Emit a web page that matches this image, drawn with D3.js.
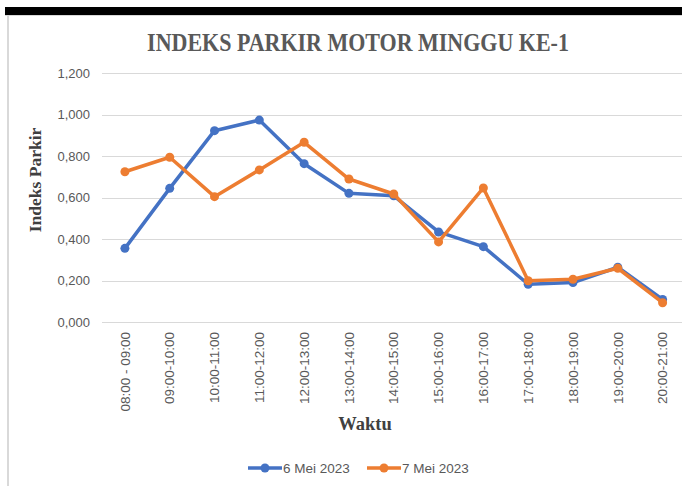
<!DOCTYPE html>
<html>
<head>
<meta charset="utf-8">
<script src="https://cdnjs.cloudflare.com/ajax/libs/d3/7.8.5/d3.min.js"></script>
<style>
  body { margin: 0; background: #fff; }
</style>
</head>
<body>
<div id="canvas"></div>
<script>
// data
const waktu = ["08:00 - 09:00", "09:00-10:00", "10:00-11:00", "11:00-12:00", "12:00-13:00",
  "13:00-14:00", "14:00-15:00", "15:00-16:00", "16:00-17:00", "17:00-18:00",
  "18:00-19:00", "19:00-20:00", "20:00-21:00"];
const mei6 = [0.355, 0.644, 0.922, 0.973, 0.763, 0.620, 0.608, 0.434, 0.363, 0.182, 0.190, 0.264, 0.109];
const mei7 = [0.724, 0.794, 0.604, 0.733, 0.866, 0.689, 0.617, 0.386, 0.646, 0.199, 0.206, 0.259, 0.093];
const yTicks = [0, 0.2, 0.4, 0.6, 0.8, 1.0, 1.2];

const series = [
  { name: "6 Mei 2023", values: mei6, color: "#4472C4" },
  { name: "7 Mei 2023", values: mei7, color: "#ED7D31" }
];

const width = 682, height = 486;
const svg = d3.select("#canvas").append("svg")
  .attr("width", width)
  .attr("height", height);

// frame bits (black bar on top, grey border left)
svg.append("rect").attr("x", 5).attr("y", 7).attr("width", 677).attr("height", 8).style("fill", "#000");
svg.append("line").attr("x1", 5).attr("x2", 682).attr("y1", 15.5).attr("y2", 15.5).style("stroke", "#d9d9d9");
svg.append("rect").attr("x", 7).attr("y", 15).attr("width", 2).attr("height", 471).style("fill", "#d9d9d9");

const x = d3.scaleBand()
  .domain(waktu)
  .range([102.5, 685]);

const y = d3.scaleLinear()
  .domain([0, 1.2])
  .range([322, 73]);

// gridlines
svg.append("g")
  .selectAll("line")
  .data(yTicks)
  .enter()
  .append("line")
  .attr("x1", 102)
  .attr("x2", 682)
  .attr("y1", d => Math.round(y(d)) + 0.5)
  .attr("y2", d => Math.round(y(d)) + 0.5)
  .style("stroke", "#d9d9d9")
  .style("stroke-width", 1);

// y axis labels
const fmt = d => d3.format(".3f")(d).replace(".", ",");
const yAxis = svg.append("g")
  .attr("transform", "translate(90,0)")
  .call(d3.axisLeft(y).tickValues(yTicks).tickFormat(fmt).tickSize(0).tickPadding(0));
yAxis.select(".domain").remove();
yAxis.selectAll("text")
  .style("font-family", "'Liberation Sans', Arial, sans-serif")
  .style("font-size", "13px")
  .style("fill", "#595959");

// x axis labels (rotated)
const xAxis = svg.append("g")
  .attr("transform", "translate(0,322)")
  .call(d3.axisBottom(x).tickSize(0).tickPadding(0));
xAxis.select(".domain").remove();
xAxis.selectAll("text")
  .attr("transform", "rotate(-90)")
  .attr("x", -10)
  .attr("y", 0)
  .attr("dy", "0.35em")
  .style("text-anchor", "end")
  .style("font-family", "'Liberation Sans', Arial, sans-serif")
  .style("font-size", "13.5px")
  .style("fill", "#595959");

// lines + markers
const line = d3.line()
  .x((d, i) => x(waktu[i]) + x.bandwidth() / 2)
  .y(d => y(d));

series.forEach(s => {
  svg.append("path")
    .datum(s.values)
    .attr("d", line)
    .style("fill", "none")
    .style("stroke", s.color)
    .style("stroke-width", 3.5)
    .style("stroke-linejoin", "round");
  svg.append("g")
    .selectAll("circle")
    .data(s.values)
    .enter()
    .append("circle")
    .attr("cx", (d, i) => x(waktu[i]) + x.bandwidth() / 2)
    .attr("cy", d => y(d))
    .attr("r", 4.5)
    .style("fill", s.color);
});

// titles
svg.append("text")
  .attr("transform", "translate(358,51) scale(0.88,1)")
  .attr("text-anchor", "middle")
  .style("font-family", "'Liberation Serif', 'Times New Roman', serif")
  .style("font-weight", "bold")
  .style("font-size", "25px")
  .style("fill", "#595959")
  .text("INDEKS PARKIR MOTOR MINGGU KE-1");

svg.append("text")
  .attr("transform", "translate(41,180) rotate(-90)")
  .attr("text-anchor", "middle")
  .style("font-family", "'Liberation Serif', 'Times New Roman', serif")
  .style("font-weight", "bold")
  .style("font-size", "17.5px")
  .style("fill", "#404040")
  .text("Indeks Parkir");

svg.append("text")
  .attr("x", 365)
  .attr("y", 430)
  .attr("text-anchor", "middle")
  .style("font-family", "'Liberation Serif', 'Times New Roman', serif")
  .style("font-weight", "bold")
  .style("font-size", "18.5px")
  .style("fill", "#404040")
  .text("Waktu");

// legend
const legendX = [248, 367];
const legend = svg.append("g")
  .selectAll("g")
  .data(series)
  .enter()
  .append("g")
  .attr("transform", (d, i) => `translate(${legendX[i]},468)`);
legend.append("line")
  .attr("x1", 0).attr("x2", 34)
  .attr("y1", 0).attr("y2", 0)
  .style("stroke", d => d.color)
  .style("stroke-width", 3.5);
legend.append("circle")
  .attr("cx", 17).attr("cy", 0).attr("r", 4.5)
  .style("fill", d => d.color);
legend.append("text")
  .attr("x", 35)
  .attr("y", 0)
  .attr("dy", "0.35em")
  .style("font-family", "'Liberation Sans', Arial, sans-serif")
  .style("font-size", "13.5px")
  .style("fill", "#595959")
  .text(d => d.name);
</script>
</body>
</html>
